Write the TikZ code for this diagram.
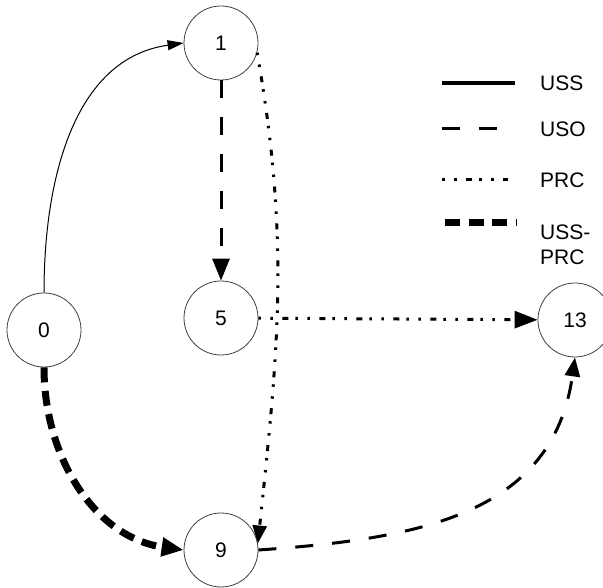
\documentclass[tikz,border=0pt]{standalone}
\usepackage{fontspec}
\setmainfont{Liberation Sans}
\usetikzlibrary{arrows.meta}

\tikzset{
  state/.style={circle,draw=black!75,line width=0.8pt,minimum size=74pt,inner sep=0pt,font=\fontsize{21}{25}\selectfont},
  uss/.style={line width=1pt},
  uso/.style={line width=3pt,dash pattern=on 18pt off 19pt},
  prc/.style={line width=3pt,dash pattern=on 2.5pt off 9.5pt on 2.5pt off 9.5pt on 6pt off 7pt},
  ussprc/.style={line width=7pt,dash pattern=on 15pt off 8.5pt},
  legendtext/.style={anchor=west,inner sep=0pt,font=\fontsize{21}{25}\selectfont,align=left},
}

\begin{document}
\begin{tikzpicture}[x=1pt,y=1pt]
    \useasboundingbox (0,0) rectangle (603,587);

    % States
    \node[state] (n0) at (44,257) {0};
    \node[state] (n1) at (221,544) {1};
    \node[state] (n5) at (221,269) {5};
    \node[state] (n9) at (221,37) {9};
    \node[state] (n13) at (575,267) {13};

    % Transitions
    \draw[uss,-{Triangle[length=16pt,width=10pt]}] (n0.north) to[out=90,in=188] (n1.west);
    \draw[uso,-{Triangle[length=22pt,width=17pt]}] (n1) -- (n5);
    \draw[prc,-{Triangle[length=18pt,width=14pt]}] (n1.-15) to[out=-80,in=84] (n9.10);
    \draw[prc,-{Triangle[length=23pt,width=17pt]}] (n5) -- (n13);
    \draw[uso,-{Triangle[length=19pt,width=15pt]}] (n9.east) to[out=4,in=-98,looseness=1.1] (n13.south);
    \draw[ussprc,-{Triangle[length=22pt,width=18pt]}] (n0.south) to[out=-90,in=172] (n9.west);

    % Legend
    \coordinate (ussA) at (442,504);
    \coordinate (ussB) at (515,504);
    \draw[line width=4pt] (ussA) -- (ussB);
    \node[legendtext] (ussT) at (540,504) {USS};

    \coordinate (usoA) at (442,458);
    \coordinate (usoB) at (498,458);
    \draw[uso] (usoA) -- (usoB);
    \node[legendtext] (usoT) at (540,458) {USO};

    \coordinate (prcA) at (442,407);
    \coordinate (prcB) at (508,407);
    \draw[prc] (prcA) -- (prcB);
    \node[legendtext] (prcT) at (540,407) {PRC};

    \coordinate (ussprcA) at (445,364);
    \coordinate (ussprcB) at (517,364);
    \draw[ussprc] (ussprcA) -- (ussprcB);
    \node[legendtext] (ussprcT) at (540,342) {USS-\\PRC};
\end{tikzpicture}
\end{document}
